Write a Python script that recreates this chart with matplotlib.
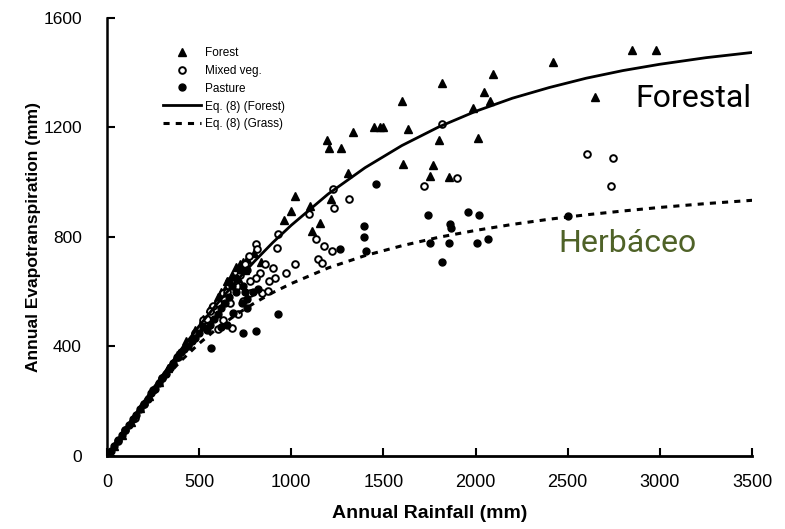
import matplotlib.pyplot as plt

plt.rcParams['font.family'] = ['Liberation Sans', 'DejaVu Sans']

# curves (Eq. 8)
curve_p = [0, 50, 100, 200, 300, 400, 500, 600, 700, 800, 900, 1000, 1200, 1400,
           1600, 1800, 2000, 2200, 2400, 2600, 2800, 3000, 3250, 3500]
forest_curve = [0, 50, 100, 198, 294, 386, 475, 558, 637, 711, 780, 843, 957, 1053,
                1134, 1202, 1259, 1307, 1346, 1380, 1408, 1431, 1455, 1474]
grass_curve = [0, 50, 99, 191, 274, 347, 411, 467, 516, 559, 597, 630, 687, 732,
               768, 799, 824, 846, 865, 881, 895, 908, 922, 934]

# Forest (triangles)
forest_p = [2849, 2979, 2420, 2094, 1818, 2046, 2078, 1986, 1600, 1633, 1801, 2013,
            2648, 1606, 1769, 1753, 1856, 1194, 1335, 1205, 1270, 1450, 1480, 1500,
            1308, 1020, 998, 960, 1101, 1156, 1112, 1215, 835,
            700, 720, 740, 760, 750, 680, 650, 620, 600, 560, 520, 480, 430, 380,
            330, 280, 230, 180, 130, 80, 40, 800, 640, 590, 710]
forest_et = [1484, 1484, 1440, 1396, 1364, 1331, 1298, 1270, 1295, 1193, 1153, 1160,
             1313, 1065, 1062, 1022, 1018, 1156, 1182, 1124, 1124, 1200, 1200, 1200,
             1033, 949, 895, 862, 913, 851, 822, 938, 709,
             690, 700, 710, 720, 680, 660, 640, 600, 580, 540, 500, 460, 420, 370,
             320, 270, 220, 175, 125, 78, 38, 740, 610, 560, 650]

# Mixed vegetation (open circles)
mixed_p = [1818, 1720, 1899, 2604, 2746, 2735, 1226, 1313, 1232, 1096, 928, 922,
           1134, 1177, 1221, 1145, 1167, 1020, 971, 912, 901,
           808, 814, 770, 830, 808, 776, 841, 873, 705, 629, 575, 667, 629, 602,
           678, 559, 385, 521, 711, 738, 776, 750, 720, 690, 650, 600, 540, 480,
           440, 300, 250, 200, 150, 100, 60, 860, 880]
mixed_et = [1211, 985, 1015, 1102, 1087, 985, 975, 938, 905, 884, 811, 760,
            793, 767, 749, 720, 706, 702, 669, 651, 687,
            775, 756, 731, 669, 651, 596, 596, 604, 622, 596, 549, 560, 495, 465,
            469, 531, 360, 495, 520, 567, 640, 700, 660, 640, 600, 560, 500, 450,
            410, 285, 240, 190, 140, 95, 55, 700, 640]

# Pasture (filled circles)
pasture_p = [1460, 1264, 1394, 1394, 1405, 1742, 1959, 2018, 1861, 1866, 1753, 1856,
             2008, 2067, 1818, 2501, 928, 808, 738, 564, 684,
             760, 760, 750, 740, 730, 700, 680, 660, 640, 620, 600, 580, 560, 540,
             520, 500, 480, 460, 440, 420, 400, 380, 360, 340, 320, 300, 280, 260,
             240, 220, 200, 180, 160, 140, 120, 100, 80, 60, 40, 20, 650, 620, 700,
             720, 660, 760, 790, 820]
pasture_et = [993, 756, 840, 800, 749, 880, 891, 880, 847, 833, 778, 778,
              778, 793, 709, 876, 520, 458, 451, 396, 524,
              575, 542, 600, 620, 560, 600, 620, 580, 560, 540, 520, 500, 480, 460,
              470, 450, 430, 420, 400, 390, 380, 360, 340, 320, 300, 285, 265, 245,
              230, 210, 190, 170, 150, 135, 115, 95, 75, 58, 38, 20, 480, 470, 650,
              680, 640, 680, 600, 610]

fig = plt.figure(figsize=(7.85, 5.29), dpi=100)
ax = fig.add_axes([0.1363, 0.138, 0.8217, 0.828])

ax.plot(forest_p, forest_et, linestyle='none', marker='^', markersize=5.8,
        color='black', label='Forest')
ax.plot(mixed_p, mixed_et, linestyle='none', marker='o', markersize=4.8,
        markerfacecolor='white', markeredgecolor='black', markeredgewidth=1.4,
        label='Mixed veg.')
ax.plot(pasture_p, pasture_et, linestyle='none', marker='o', markersize=5,
        color='black', label='Pasture')
ax.plot(curve_p, forest_curve, color='black', linewidth=2, label='Eq. (8) (Forest)')
ax.plot(curve_p, grass_curve, color='black', linewidth=2.2, linestyle=(0, (2, 2)),
        label='Eq. (8) (Grass)')

ax.set_xlim(0, 3500)
ax.set_ylim(0, 1600)
ax.set_xticks([0, 500, 1000, 1500, 2000, 2500, 3000, 3500])
ax.set_yticks([0, 400, 800, 1200, 1600])
ax.tick_params(direction='in', length=6, width=1.5)
ax.tick_params(axis='x', labelsize=13, pad=13)
ax.tick_params(axis='y', labelsize=12.5, pad=18)
ax.spines['top'].set_visible(False)
ax.spines['right'].set_visible(False)
ax.spines['left'].set_linewidth(1.8)
ax.spines['bottom'].set_linewidth(2)

ax.set_xlabel('Annual Rainfall (mm)', fontsize=14, fontweight='bold', labelpad=10)
ax.set_ylabel('Annual Evapotranspiration (mm)', fontsize=12.5, fontweight='bold',
              labelpad=2)

leg = ax.legend(loc='upper left', bbox_to_anchor=(0.08, 0.945), frameon=False,
                fontsize=8.5, handlelength=3.2, labelspacing=0.5, handletextpad=0.3,
                borderaxespad=0)

ax.text(2865, 1275, 'Forestal', fontsize=23, color='black', va='baseline',
        family=['Roboto', 'DejaVu Sans'])
ax.text(2447, 745, 'Herbáceo', fontsize=23, color='#4f6228', va='baseline',
        family=['Roboto', 'DejaVu Sans'])

fig.savefig('out.png', dpi=100)
